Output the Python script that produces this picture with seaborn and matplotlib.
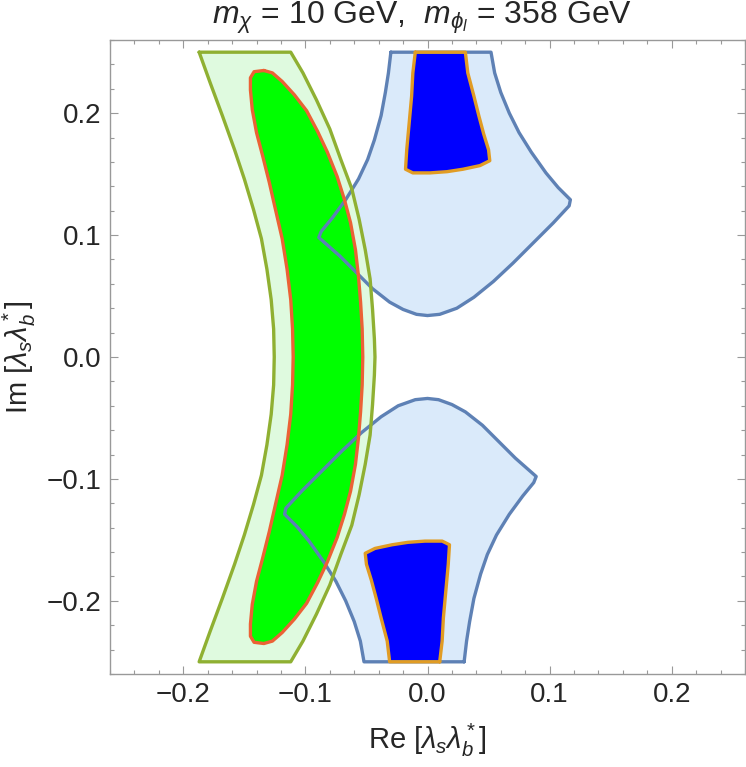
import numpy as np
import matplotlib
matplotlib.use("Agg")
import matplotlib.pyplot as plt
import seaborn as sns

# light green band (outer allowed region), traced clockwise from top-left
band_x = [-0.187, -0.112, -0.102, -0.091, -0.080, -0.071, -0.062, -0.056, -0.051, -0.047, -0.045, -0.0435, -0.043,
          -0.0435, -0.045, -0.047, -0.051, -0.056, -0.062, -0.071, -0.080, -0.091, -0.102, -0.112,
          -0.187, -0.178, -0.168, -0.158, -0.150, -0.1425, -0.136, -0.1315, -0.128, -0.126, -0.1255,
          -0.126, -0.128, -0.1315, -0.136, -0.1425, -0.150, -0.158, -0.168, -0.178]
band_y = [0.250, 0.250, 0.233, 0.211, 0.187, 0.162, 0.138, 0.113, 0.088, 0.064, 0.039, 0.015, 0.000,
          -0.015, -0.039, -0.064, -0.088, -0.113, -0.138, -0.162, -0.187, -0.211, -0.233, -0.250,
          -0.250, -0.225, -0.198, -0.170, -0.146, -0.121, -0.097, -0.072, -0.047, -0.023, 0.000,
          0.023, 0.047, 0.072, 0.097, 0.121, 0.146, 0.170, 0.198, 0.225]

# bright green region (inner)
core_x = [-0.134, -0.127, -0.119, -0.109, -0.099, -0.090, -0.082, -0.074, -0.068, -0.063, -0.059, -0.0565, -0.0548, -0.0535, -0.053,
          -0.0535, -0.0548, -0.0565, -0.059, -0.063, -0.068, -0.074, -0.082, -0.090, -0.099, -0.109, -0.119, -0.127, -0.134,
          -0.142, -0.145, -0.145, -0.1435, -0.140, -0.135, -0.1295, -0.1245, -0.119, -0.115, -0.112, -0.1105, -0.110,
          -0.1105, -0.112, -0.115, -0.119, -0.1245, -0.1295, -0.135, -0.140, -0.1435, -0.145, -0.145, -0.142]
core_y = [0.235, 0.233, 0.226, 0.215, 0.202, 0.185, 0.168, 0.148, 0.129, 0.110, 0.088, 0.066, 0.045, 0.023, 0.000,
          -0.023, -0.045, -0.066, -0.088, -0.110, -0.129, -0.148, -0.168, -0.185, -0.202, -0.215, -0.226, -0.233, -0.235,
          -0.234, -0.229, -0.219, -0.203, -0.184, -0.165, -0.143, -0.121, -0.097, -0.072, -0.047, -0.023, 0.000,
          0.023, 0.047, 0.072, 0.097, 0.121, 0.143, 0.165, 0.184, 0.203, 0.219, 0.229, 0.234]

# light blue regions
sky_up_x = [-0.030, 0.052, 0.055, 0.060, 0.067, 0.075, 0.085, 0.097, 0.107, 0.117, 0.116, 0.103, 0.087, 0.070, 0.054,
            0.038, 0.024, 0.010, 0.000, -0.009, -0.020, -0.031, -0.045, -0.058, -0.072, -0.089, -0.087, -0.078,
            -0.067, -0.0565, -0.049, -0.0435, -0.038, -0.0345, -0.032]
sky_up_y = [0.250, 0.250, 0.233, 0.217, 0.200, 0.184, 0.168, 0.151, 0.139, 0.129, 0.124, 0.110, 0.094, 0.077, 0.062,
            0.049, 0.040, 0.035, 0.034, 0.035, 0.039, 0.045, 0.056, 0.069, 0.083, 0.098, 0.103, 0.114,
            0.129, 0.146, 0.162, 0.178, 0.198, 0.217, 0.233]
sky_dn_x = [0.030, -0.052, -0.055, -0.060, -0.067, -0.075, -0.085, -0.097, -0.107, -0.117, -0.116, -0.103, -0.087, -0.070, -0.054,
            -0.038, -0.024, -0.010, 0.000, 0.009, 0.020, 0.031, 0.045, 0.058, 0.072, 0.089, 0.087, 0.078,
            0.067, 0.0565, 0.049, 0.0435, 0.038, 0.0345, 0.032]
sky_dn_y = [-0.250, -0.250, -0.233, -0.217, -0.200, -0.184, -0.168, -0.151, -0.139, -0.129, -0.124, -0.110, -0.094, -0.077, -0.062,
            -0.049, -0.040, -0.035, -0.034, -0.035, -0.039, -0.045, -0.056, -0.069, -0.083, -0.098, -0.103, -0.114,
            -0.129, -0.146, -0.162, -0.178, -0.198, -0.217, -0.233]

# dark blue regions
deep_up_x = [-0.010, 0.031, 0.033, 0.038, 0.042, 0.046, 0.050, 0.051, 0.043, 0.029, 0.016, 0.002, -0.012, -0.016, -0.018,
             -0.017, -0.015, -0.013, -0.012]
deep_up_y = [0.250, 0.250, 0.233, 0.214, 0.198, 0.183, 0.170, 0.161, 0.157, 0.154, 0.152, 0.151, 0.151, 0.153, 0.154,
             0.170, 0.192, 0.214, 0.233]
deep_dn_x = [0.010, -0.031, -0.033, -0.038, -0.042, -0.046, -0.050, -0.051, -0.043, -0.029, -0.016, -0.002, 0.012, 0.016, 0.018,
             0.017, 0.015, 0.013, 0.012]
deep_dn_y = [-0.250, -0.250, -0.233, -0.214, -0.198, -0.183, -0.170, -0.161, -0.157, -0.154, -0.152, -0.151, -0.151, -0.153, -0.154,
             -0.170, -0.192, -0.214, -0.233]

ticks = [-0.2, -0.1, 0.0, 0.1, 0.2]

sns.set_theme(style="ticks")
plt.rcParams['font.family'] = ['Liberation Sans', 'DejaVu Sans']
plt.rcParams['mathtext.fontset'] = 'custom'
plt.rcParams['mathtext.rm'] = 'Liberation Sans'
plt.rcParams['mathtext.it'] = 'Liberation Sans:italic'
plt.rcParams['mathtext.bf'] = 'Liberation Sans:bold'

fig = plt.figure(figsize=(7.46, 7.67), dpi=100)
ax = fig.add_axes([110 / 746, 1 - 674 / 767, 635 / 746, 634 / 767])


def closed(xs, ys):
    return np.append(xs, xs[0]), np.append(ys, ys[0])


def edge(xs, ys, color, z):
    cx, cy = closed(xs, ys)
    sns.lineplot(x=cx, y=cy, sort=False, estimator=None, color=color, lw=2.4, ax=ax, zorder=z,
                 solid_joinstyle='round')


# fills first
ax.fill(sky_up_x, sky_up_y, color='#daeafa', lw=0, zorder=1)
ax.fill(sky_dn_x, sky_dn_y, color='#daeafa', lw=0, zorder=1)
ax.fill(deep_up_x, deep_up_y, color='#0000ff', lw=0, zorder=1)
ax.fill(deep_dn_x, deep_dn_y, color='#0000ff', lw=0, zorder=1)
ax.fill(band_x, band_y, color='#dffadf', lw=0, zorder=2)
ax.fill(core_x, core_y, color='#00ff00', lw=0, zorder=3)

# boundaries
edge(sky_up_x, sky_up_y, '#5e81b5', 4)
edge(sky_dn_x, sky_dn_y, '#5e81b5', 4)
edge(deep_up_x, deep_up_y, '#e19c24', 4)
edge(deep_dn_x, deep_dn_y, '#e19c24', 4)
edge(band_x, band_y, '#8fb032', 5)
edge(core_x, core_y, '#eb6235', 5)

ax.set_xlim(-0.26, 0.26)
ax.set_ylim(-0.26, 0.26)
ax.set_xticks(ticks)
ax.set_yticks(ticks)
ax.set_xticklabels([f"{t:.1f}".replace('-', '\u2212') for t in ticks])
ax.set_yticklabels([f"{t:.1f}".replace('-', '\u2212') for t in ticks])
ax.set_xticks(np.round(np.arange(-0.26, 0.261, 0.02), 2), minor=True)
ax.set_yticks(np.round(np.arange(-0.26, 0.261, 0.02), 2), minor=True)
ax.tick_params(which='both', direction='in', top=True, right=True, color='#999999', width=0.8)
ax.tick_params(which='major', length=5.5, labelsize=20, pad=6)
ax.tick_params(which='minor', length=3)
for s in ax.spines.values():
    s.set_color('#999999')
    s.set_linewidth(1.0)

ax.set_xlabel(r"Re [$\lambda_s\lambda_b^*$]", fontsize=21)
ax.set_ylabel(r"Im [$\lambda_s\lambda_b^*$]", fontsize=21)
ax.xaxis.set_label_coords(0.5, -0.104)
ax.xaxis.label.set_va('center')
ax.yaxis.set_label_coords(-0.142, 0.50)
ax.yaxis.label.set_va('center')

fig.text(422 / 746, 1 - 18 / 767, r"$m_\chi$ = 10 GeV,  $m_{\phi_l}$ = 358 GeV",
         ha='center', va='center', fontsize=23)

fig.savefig("out.png", dpi=100)
